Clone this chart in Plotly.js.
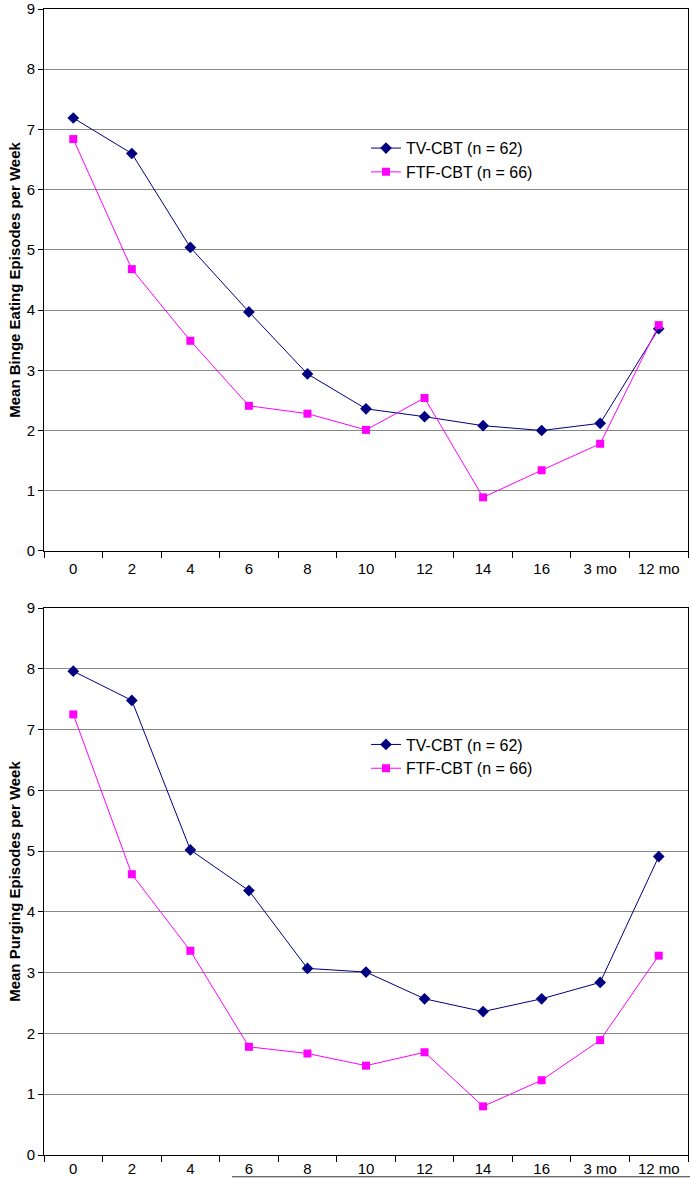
<!DOCTYPE html>
<html>
<head>
<meta charset="utf-8">
<script src="https://cdn.plot.ly/plotly-3.0.1.min.js"></script>
<style>html,body{margin:0;padding:0;background:#fff;}#chart{width:690px;height:1179px;}</style>
</head>
<body>
<div id="chart"></div>
<script>
const categories = ["0", "2", "4", "6", "8", "10", "12", "14", "16", "3 mo", "12 mo"];
const bingeTV  = [7.19, 6.60, 5.04, 3.97, 2.94, 2.36, 2.23, 2.08, 2.00, 2.12, 3.69];
const bingeFTF = [6.84, 4.68, 3.49, 2.41, 2.28, 2.01, 2.54, 0.89, 1.34, 1.78, 3.75];
const purgeTV  = [7.96, 7.48, 5.02, 4.35, 3.07, 3.01, 2.57, 2.36, 2.57, 2.84, 4.91];
const purgeFTF = [7.25, 4.62, 3.36, 1.78, 1.67, 1.47, 1.69, 0.80, 1.23, 1.89, 3.28];
const yTicks = [0, 1, 2, 3, 4, 5, 6, 7, 8, 9];

const navy = "#000080", magenta = "#FF00FF";
function tr(y, name, color, symbol, xa, ya, leg, show) {
  return {x: categories, y: y, name: name, type: "scatter", mode: "lines+markers",
    xaxis: xa, yaxis: ya, legend: leg, showlegend: show,
    line: {color: color, width: 1},
    marker: {color: color, symbol: symbol, size: symbol === "square" ? 8 : 9}};
}
const data = [
  tr(bingeTV, "TV-CBT (n = 62)", navy, "diamond", "x", "y", "legend", true),
  tr(bingeFTF, "FTF-CBT (n = 66)", magenta, "square", "x", "y", "legend", true),
  tr(purgeTV, "TV-CBT (n = 62)", navy, "diamond", "x2", "y2", "legend2", true),
  tr(purgeFTF, "FTF-CBT (n = 66)", magenta, "square", "x2", "y2", "legend2", true)
];
const fam = "Liberation Sans, Arial, sans-serif";
const font = {family: fam, size: 15, color: "#000"};
function xax(anchor, standoff) {
  return {type: "category", anchor: anchor, range: [-0.5, 10.5], tickson: "boundaries", ticks: "outside", ticklen: 6,
    tickcolor: "#000", showline: true, mirror: true, linecolor: "#000", linewidth: 1, showgrid: false,
    zeroline: false, tickfont: font, ticklabelstandoff: standoff, fixedrange: true};
}
function yax(anchor, title, dom) {
  return {anchor: anchor, domain: dom, range: [0, 9], tickvals: yTicks, ticks: "outside", ticklen: 5,
    tickcolor: "#000", showline: true, mirror: true, linecolor: "#000", linewidth: 1,
    showgrid: true, gridcolor: "#888", gridwidth: 1, zeroline: false, tickfont: font,
    ticklabeloverflow: "allow",
    title: {text: title, font: {family: fam, size: 15, color: "#000"}, standoff: 2}};
}
const legFont = {family: fam, size: 16, color: "#000"};
const layout = {
  width: 690, height: 1179,
  margin: {l: 44, r: 2, t: 9, b: 24},
  paper_bgcolor: "#fff", plot_bgcolor: "#fff",
  font: font,
  xaxis: Object.assign(xax("y", 4), {domain: [0, 1]}),
  yaxis: yax("x", "<b>Mean Binge Eating Episodes per Week</b>", [0.5271, 1]),
  xaxis2: Object.assign(xax("y2", 0), {domain: [0, 1]}),
  yaxis2: yax("x2", "<b>Mean Purging Episodes per Week</b>", [0, 0.4773]),
  legend: {x: 0.5, y: 0.8934, xanchor: "left", yanchor: "top", bgcolor: "rgba(0,0,0,0)", font: legFont, itemwidth: 30},
  legend2: {x: 0.5, y: 0.373, xanchor: "left", yanchor: "top", bgcolor: "rgba(0,0,0,0)", font: legFont, itemwidth: 30},
  shapes: [{type: "line", xref: "paper", yref: "paper", x0: 0.292, x1: 1.01, y0: -0.019, y1: -0.019,
    line: {color: "#333", width: 1}}]
};
Plotly.newPlot("chart", data, layout, {staticPlot: true});
</script>
</body>
</html>
